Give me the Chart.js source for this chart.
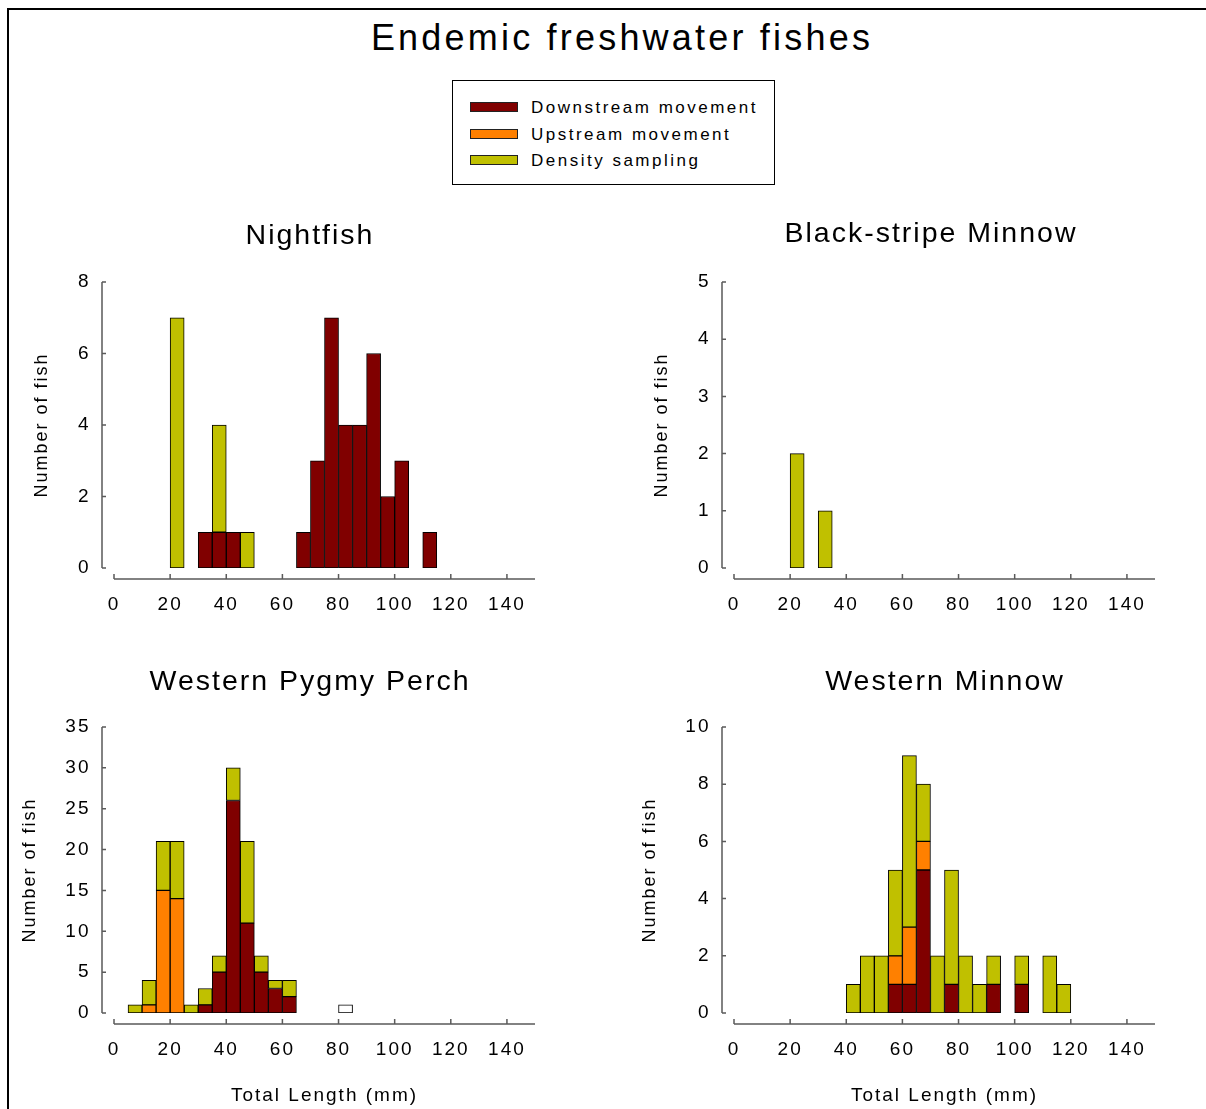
<!DOCTYPE html>
<html><head><meta charset="utf-8">
<script src="https://cdn.jsdelivr.net/npm/chart.js@4.4.1/dist/chart.umd.min.js"></script>
<style>
html,body{margin:0;padding:0;background:#fff;overflow:hidden;width:1206px;height:1109px;}
body{position:relative;font-family:"Liberation Sans",Arial,sans-serif;color:#000;}
#frame{position:absolute;left:7px;top:8px;width:1400px;height:1300px;border-left:2px solid #000;border-top:2px solid #000;}
#title{position:absolute;left:222px;width:800px;top:17px;line-height:42px;font-size:36px;text-align:center;letter-spacing:3.2px;white-space:nowrap;}
#legend{position:absolute;left:452px;top:80px;width:321px;height:103px;border:1px solid #000;background:#fff;}
.item{position:absolute;left:17px;height:20px;font-size:17px;letter-spacing:2.5px;line-height:20px;white-space:nowrap;}
.sw{position:absolute;left:0;top:5px;width:46px;height:8px;border:1px solid #222;}
.lbl{position:absolute;left:61px;top:1px;}
canvas{position:absolute;}
</style></head>
<body>
<div id="frame"></div>
<div id="title">Endemic freshwater fishes</div>
<div id="legend"></div>
<script>
// ---- data ----
const bins = [0,5,10,15,20,25,30,35,40,45,50,55,60,65,70,75,80,85,90,95,100,105,110,115,120,125,130,135,140,145];
const seriesNames = ['Downstream movement','Upstream movement','Density sampling'];
const seriesColors = ['#800000','#FF8000','#C0C000'];
const xTickLabels = [0,20,40,60,80,100,120,140];

const nightfishDown = [0,0,0,0,0,0,1,1,1,0,0,0,0,1,3,7,4,4,6,2,3,0,1,0,0,0,0,0,0,0];
const nightfishUp   = [0,0,0,0,0,0,0,0,0,0,0,0,0,0,0,0,0,0,0,0,0,0,0,0,0,0,0,0,0,0];
const nightfishDens = [0,0,0,0,7,0,0,3,0,1,0,0,0,0,0,0,0,0,0,0,0,0,0,0,0,0,0,0,0,0];

const blackStripeDown = [0,0,0,0,0,0,0,0,0,0,0,0,0,0,0,0,0,0,0,0,0,0,0,0,0,0,0,0,0,0];
const blackStripeUp   = [0,0,0,0,0,0,0,0,0,0,0,0,0,0,0,0,0,0,0,0,0,0,0,0,0,0,0,0,0,0];
const blackStripeDens = [0,0,0,0,2,0,1,0,0,0,0,0,0,0,0,0,0,0,0,0,0,0,0,0,0,0,0,0,0,0];

const pygmyDown  = [0,0,0,0,0,0,1,5,26,11,5,3,2,0,0,0,0,0,0,0,0,0,0,0,0,0,0,0,0,0];
const pygmyUp    = [0,0,1,15,14,0,0,0,0,0,0,0,0,0,0,0,0,0,0,0,0,0,0,0,0,0,0,0,0,0];
const pygmyDens  = [0,1,3,6,7,1,2,2,4,10,2,1,2,0,0,0,0,0,0,0,0,0,0,0,0,0,0,0,0,0];
const pygmyOther = [0,0,0,0,0,0,0,0,0,0,0,0,0,0,0,0,1,0,0,0,0,0,0,0,0,0,0,0,0,0];

const minnowDown = [0,0,0,0,0,0,0,0,0,0,0,1,1,5,0,1,0,0,1,0,1,0,0,0,0,0,0,0,0,0];
const minnowUp   = [0,0,0,0,0,0,0,0,0,0,0,1,2,1,0,0,0,0,0,0,0,0,0,0,0,0,0,0,0,0];
const minnowDens = [0,0,0,0,0,0,0,0,1,2,2,3,6,2,2,4,2,1,1,0,1,0,2,1,0,0,0,0,0,0];

// ---- legend ----
const legendEl = document.getElementById('legend');
const rowTops = [16, 43, 69];
seriesNames.forEach((n, i) => {
  const it = document.createElement('div');
  it.className = 'item';
  it.style.top = rowTops[i] + 'px';
  it.innerHTML = '<div class="sw" style="background:' + seriesColors[i] + '"></div><div class="lbl">' + n + '</div>';
  legendEl.appendChild(it);
});

// ---- charts ----
const FONT = '"Liberation Sans", Arial, sans-serif';
const TITLE_SIZE = 28.5;
const TICK_SIZE = 19;
const YTITLE_SIZE = 18;
const XTITLE_SIZE = 19;

const toData = a => a.map(v => v === 0 ? null : v);

const axesPlugin = {
  id: 'sigmaAxes',
  beforeLayout(chart) { chart.ctx.letterSpacing = '2px'; },
  beforeDraw(chart) { chart.ctx.letterSpacing = '2px'; },
  afterDatasetsDraw(chart) {
    const {ctx, chartArea, scales} = chart;
    const y = scales.y, x2 = scales.x2;
    ctx.save();
    ctx.letterSpacing = '0px';
    ctx.strokeStyle = '#5a5a5a';
    ctx.lineWidth = 1.5;
    const ax = chartArea.left - 12;
    ctx.beginPath();
    ctx.moveTo(ax, y.getPixelForValue(y.max));
    ctx.lineTo(ax, y.getPixelForValue(0));
    y.ticks.forEach(t => {
      const py = y.getPixelForValue(t.value);
      ctx.moveTo(ax, py); ctx.lineTo(ax + 4, py);
    });
    ctx.stroke();
    const ay = chartArea.bottom + 11;
    ctx.beginPath();
    ctx.moveTo(x2.getPixelForValue(x2.min), ay);
    ctx.lineTo(x2.getPixelForValue(x2.max), ay);
    x2.ticks.forEach(t => {
      const px = x2.getPixelForValue(t.value);
      ctx.moveTo(px, ay); ctx.lineTo(px, ay - 5);
    });
    ctx.stroke();
    ctx.restore();
  }
};

function makePanel(p) {
  const lhT = TITLE_SIZE * 1.2;
  const half = Math.round(Math.max(p.titleCX - (p.yTitleCX - 20), p.plotR - p.titleCX + 2));
  const cl = p.titleCX - half, cr = p.titleCX + half;
  const ct = Math.floor(p.titleCY - lhT / 2 - 2);
  const cb = p.canvasBottom;
  const W = cr - cl, H = cb - ct;
  const tPadTop = p.titleCY - ct - lhT / 2;
  const tPadBottom = (p.plotT - ct) - tPadTop - lhT;
  const yTitlePad = p.yTitleCX - cl - YTITLE_SIZE * 1.2 / 2;

  const cv = document.createElement('canvas');
  cv.width = W; cv.height = H;
  cv.style.left = cl + 'px'; cv.style.top = ct + 'px';
  cv.style.width = W + 'px'; cv.style.height = H + 'px';
  document.body.appendChild(cv);

  const datasets = p.series.map((s, i) => ({
    label: s.name,
    data: toData(s.values),
    backgroundColor: s.color,
    borderColor: '#000',
    borderWidth: 1,
    borderSkipped: false,
    barPercentage: 1,
    categoryPercentage: 1
  }));

  new Chart(cv, {
    type: 'bar',
    data: { labels: bins.map(String), datasets },
    plugins: [axesPlugin],
    options: {
      responsive: false,
      animation: false,
      devicePixelRatio: 1,
      events: [],
      layout: { padding: 0 },
      plugins: {
        legend: { display: false },
        tooltip: { enabled: false },
        title: {
          display: true, text: p.title, color: '#000', position: 'top', fullSize: true,
          font: { family: FONT, size: TITLE_SIZE, weight: 'normal' },
          padding: { top: tPadTop, bottom: tPadBottom }
        }
      },
      scales: {
        x: { type: 'category', display: false, stacked: true, offset: true },
        x2: {
          type: 'linear', position: 'bottom', min: 0, max: 150, offset: false,
          grid: { display: false, drawTicks: false, offset: false }, border: { display: false },
          ticks: { stepSize: 20, padding: 25.5, color: '#000', maxRotation: 0, autoSkip: false,
                   font: { family: FONT, size: TICK_SIZE } },
          afterBuildTicks(s) { s.ticks = xTickLabels.map(v => ({ value: v })); },
          afterFit(s) { s.height = cb - p.plotB; },
          title: { display: !!p.xTitle, text: 'Total Length (mm)', color: '#000',
                   font: { family: FONT, size: XTITLE_SIZE }, padding: { top: 0, bottom: 1.6 } }
        },
        y: {
          type: 'linear', position: 'left', stacked: true, min: 0, max: p.yMax,
          grid: { display: false, drawTicks: false }, border: { display: false },
          ticks: { stepSize: p.yStep, padding: 23.5, color: '#000', font: { family: FONT, size: TICK_SIZE } },
          afterFit(s) { s.width = p.plotL - cl; },
          title: { display: true, text: 'Number of fish', color: '#000',
                   font: { family: FONT, size: YTITLE_SIZE }, padding: { top: yTitlePad, bottom: 0 } }
        },
        yr: {
          type: 'linear', position: 'right', display: true,
          grid: { display: false, drawTicks: false }, border: { display: false },
          ticks: { display: false },
          afterFit(s) { s.width = cr - p.plotR; }
        }
      }
    }
  });
}

const mk = (d, u, dn) => [
  { name: seriesNames[0], values: d, color: seriesColors[0] },
  { name: seriesNames[1], values: u, color: seriesColors[1] },
  { name: seriesNames[2], values: dn, color: seriesColors[2] }
];

makePanel({ title: 'Nightfish', series: mk(nightfishDown, nightfishUp, nightfishDens),
  yMax: 8, yStep: 2, plotL: 114, plotR: 535, plotT: 282, plotB: 568,
  titleCX: 310, titleCY: 236, yTitleCX: 42, canvasBottom: 630, xTitle: false });

makePanel({ title: 'Black-stripe Minnow', series: mk(blackStripeDown, blackStripeUp, blackStripeDens),
  yMax: 5, yStep: 1, plotL: 734, plotR: 1155, plotT: 282, plotB: 568,
  titleCX: 931, titleCY: 234, yTitleCX: 662, canvasBottom: 630, xTitle: false });

const pygSeries = mk(pygmyDown, pygmyUp, pygmyDens);
pygSeries.push({ name: 'Unclassified', values: pygmyOther, color: '#FFFFFF' });
makePanel({ title: 'Western Pygmy Perch', series: pygSeries,
  yMax: 35, yStep: 5, plotL: 114, plotR: 535, plotT: 727, plotB: 1013,
  titleCX: 310, titleCY: 682, yTitleCX: 30, canvasBottom: 1109, xTitle: true });

makePanel({ title: 'Western Minnow', series: mk(minnowDown, minnowUp, minnowDens),
  yMax: 10, yStep: 2, plotL: 734, plotR: 1155, plotT: 727, plotB: 1013,
  titleCX: 945, titleCY: 682, yTitleCX: 650, canvasBottom: 1109, xTitle: true });
</script>
</body></html>
